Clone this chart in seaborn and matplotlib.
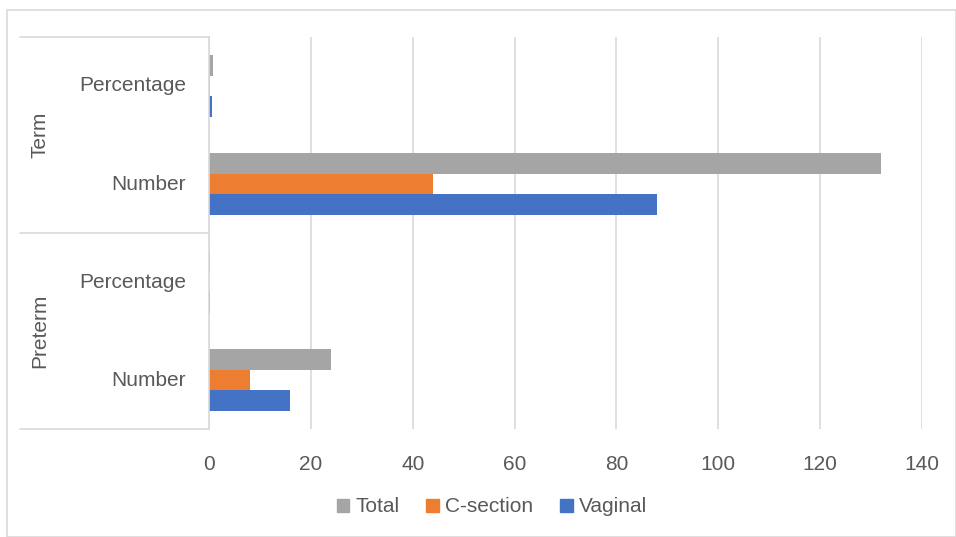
import matplotlib
matplotlib.use("Agg")
import matplotlib.pyplot as plt
import seaborn as sns
import pandas as pd
from matplotlib.patches import Rectangle
from matplotlib.lines import Line2D

# ---- data ----
groups = ["Term", "Term", "Preterm", "Preterm"]
measures = ["Percentage", "Number", "Percentage", "Number"]
total = [0.85, 132, 0.15, 24]
c_section = [0.28, 44, 0.05, 8]
vaginal = [0.56, 88, 0.10, 16]
series_names = ["Total", "C-section", "Vaginal"]
colors = ["#A5A5A5", "#ED7D31", "#4472C4"]
x_ticks = [0, 20, 40, 60, 80, 100, 120, 140]

rows = []
for i in range(len(groups)):
    key = f"{groups[i]}|{measures[i]}"
    for name, vals in zip(series_names, [total, c_section, vaginal]):
        rows.append({"cat": key, "series": name, "value": vals[i]})
df = pd.DataFrame(rows)
order = [f"{g}|{m}" for g, m in zip(groups, measures)]

sns.set_theme(style="white")
plt.rcParams["font.family"] = ["Liberation Sans", "DejaVu Sans"]
txt = "#595959"
FS = 15

fig = plt.figure(figsize=(9.56, 5.37), dpi=100)
W, H = 956, 537
ax = fig.add_axes([209 / W, 1 - 429 / H, (922 - 209) / W, (429 - 37) / H])

sns.barplot(data=df, y="cat", x="value", hue="series", order=order,
            hue_order=series_names, palette=colors, orient="h",
            width=0.63, ax=ax, legend=False, saturation=1, edgecolor="none")

ax.set_xlim(0, 140)
ax.set_xticks(x_ticks)
ax.set_xticklabels([str(t) for t in x_ticks], fontsize=FS, color=txt)
ax.tick_params(axis="x", length=0, pad=19)
ax.set_yticks([])
ax.set_ylabel("")
ax.set_xlabel("")
ax.set_ylim(3.5, -0.5)
ax.grid(axis="x", color="#D9D9D9", linewidth=1.2)
ax.set_axisbelow(True)
for s in ["top", "right", "bottom"]:
    ax.spines[s].set_visible(False)
ax.spines["left"].set_color("#D9D9D9")
ax.spines["left"].set_linewidth(1.2)

# multi-level category axis
def fx(px):
    return px / W
def fy(py):
    return 1 - py / H

for py in [37, 233, 429]:
    fig.add_artist(Line2D([fx(20), fx(209)], [fy(py), fy(py)], color="#D9D9D9", lw=1.2))

cat_y = [86, 184, 282, 380]
for m, py in zip(measures, cat_y):
    fig.text(fx(186), fy(py), m, ha="right", va="center", fontsize=FS, color=txt)
fig.text(fx(40), fy(135), "Term", rotation=90, ha="center", va="center", fontsize=FS, color=txt)
fig.text(fx(40), fy(331), "Preterm", rotation=90, ha="center", va="center", fontsize=FS, color=txt)

# legend
handles = [Rectangle((0, 0), 1, 1, color=c) for c in colors]
fig.legend(handles, series_names, loc="center", bbox_to_anchor=(fx(492), fy(507)),
           ncol=3, frameon=False, fontsize=FS, handlelength=0.6, handleheight=0.6,
           handletextpad=0.3, columnspacing=1.3, labelcolor=txt)

# outer frame
fig.add_artist(Rectangle((fx(7), 0), 1 - fx(7), fy(10), fill=False,
                         edgecolor="#D9D9D9", lw=1.2, transform=fig.transFigure))

fig.savefig("out.png", dpi=100)
